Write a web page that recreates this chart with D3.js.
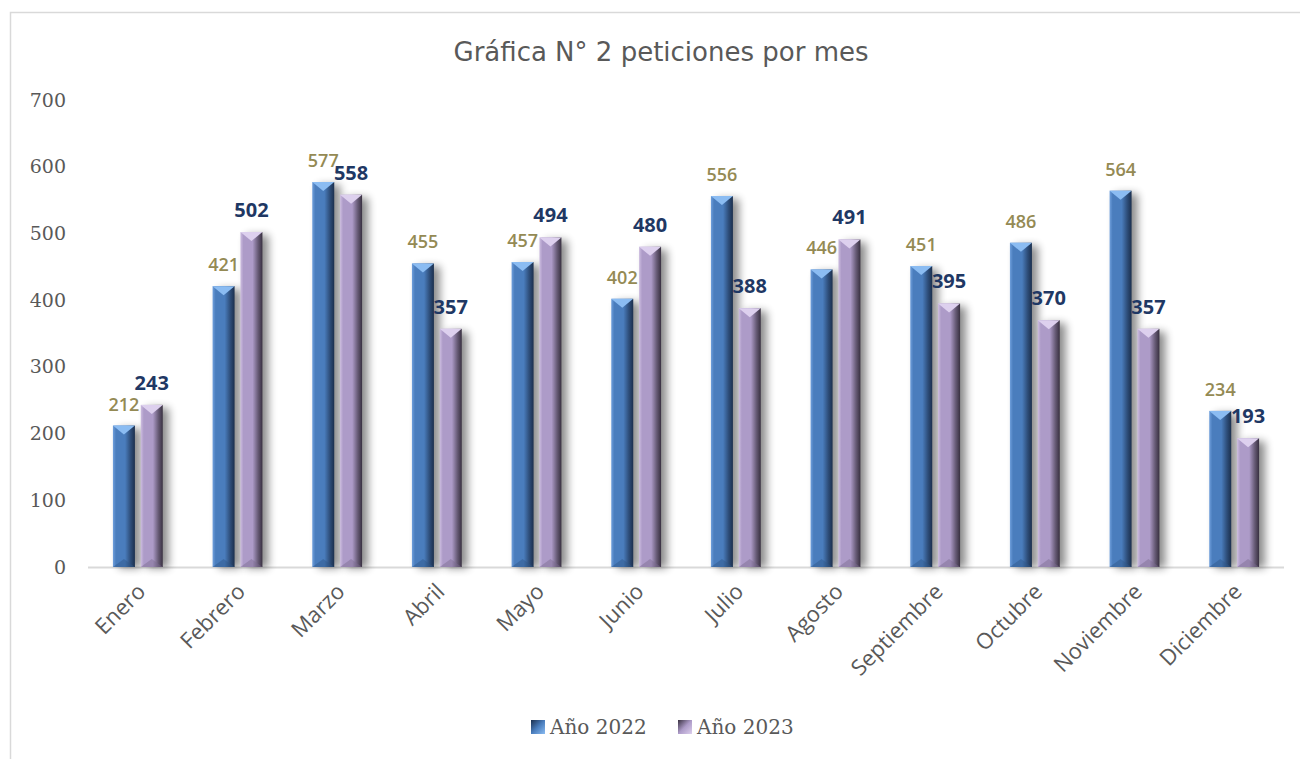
<!DOCTYPE html>
<html>
<head>
<meta charset="utf-8">
<script src="https://cdn.jsdelivr.net/npm/d3@7"></script>
<style>
  body { margin: 0; background: #fff; }
  svg { display: block; }
</style>
</head>
<body>
<div id="wrapper"></div>
<script>
// data
const months = ['Enero', 'Febrero', 'Marzo', 'Abril', 'Mayo', 'Junio', 'Julio',
  'Agosto', 'Septiembre', 'Octubre', 'Noviembre', 'Diciembre'];
const seriesNames = ['Año 2022', 'Año 2023'];
const values2022 = [212, 421, 577, 455, 457, 402, 556, 446, 451, 486, 564, 234];
const values2023 = [243, 502, 558, 357, 494, 480, 388, 491, 395, 370, 357, 193];
const yTicks = [0, 100, 200, 300, 400, 500, 600, 700];
const title = 'Gráfica N° 2 peticiones por mes';

function drawBars() {
  // step 1: dimensions
  const dimensions = {
    width: 1300,
    height: 759,
    margin: { top: 100, right: 16, bottom: 192, left: 88 },
  };
  dimensions.boundWidth = dimensions.width - dimensions.margin.left - dimensions.margin.right;
  dimensions.boundHeight = dimensions.height - dimensions.margin.top - dimensions.margin.bottom;

  const rows = months.map((m, i) => ({ month: m, values: [values2022[i], values2023[i]] }));

  // step 2: canvas
  const wrapper = d3.select('#wrapper')
    .append('svg')
    .attr('width', dimensions.width)
    .attr('height', dimensions.height);

  // chart frame
  wrapper.append('rect')
    .attr('x', 10.5).attr('y', 12.5)
    .attr('width', 1310).attr('height', 780)
    .attr('fill', '#fff')
    .attr('stroke', '#d9d9d9')
    .attr('stroke-width', 1.5);

  // gradients + shadow
  const defs = wrapper.append('defs');
  const palettes = [
    { light: '#6f9fdc', base: '#4a7dbd', dark: '#1b2f4d', top: '#8bbcf2', bottom: '#2f5688' },
    { light: '#cdbde0', base: '#ad9bc8', dark: '#383040', top: '#ddd0ee', bottom: '#7a6a8e' },
  ];
  palettes.forEach((p, i) => {
    const g = defs.append('linearGradient')
      .attr('id', `body${i}`)
      .attr('x1', 0).attr('x2', 1).attr('y1', 0).attr('y2', 0);
    g.append('stop').attr('offset', '0%').attr('stop-color', p.light);
    g.append('stop').attr('offset', '14%').attr('stop-color', p.base);
    g.append('stop').attr('offset', '55%').attr('stop-color', p.base);
    g.append('stop').attr('offset', '80%').attr('stop-color', d3.interpolateRgb(p.base, p.dark)(0.6));
    g.append('stop').attr('offset', '100%').attr('stop-color', p.dark);
    const lg = defs.append('linearGradient')
      .attr('id', `legend${i}`)
      .attr('x1', 0).attr('x2', 1).attr('y1', 0).attr('y2', 1);
    lg.append('stop').attr('offset', '0%').attr('stop-color', p.dark);
    lg.append('stop').attr('offset', '50%').attr('stop-color', p.base);
    lg.append('stop').attr('offset', '100%').attr('stop-color', p.top);
  });
  const shadow = defs.append('filter')
    .attr('id', 'shadow')
    .attr('x', '-50%').attr('y', '-10%').attr('width', '200%').attr('height', '120%');
  shadow.append('feGaussianBlur').attr('stdDeviation', 4);

  const bounds = wrapper.append('g')
    .attr('transform', `translate(${dimensions.margin.left}, ${dimensions.margin.top})`);

  // step 3: scales
  const xScale = d3.scaleBand()
    .domain(months)
    .range([0, dimensions.boundWidth])
    .paddingInner(0.5)
    .paddingOuter(0.25);
  const xSeries = d3.scaleBand()
    .domain([0, 1])
    .range([0, xScale.bandwidth()])
    .paddingInner(0.21);
  const yScale = d3.scaleLinear()
    .domain([0, 700])
    .range([dimensions.boundHeight, 0]);

  // step 4: axes
  const yAxis = bounds.append('g')
    .call(d3.axisLeft(yScale).tickValues(yTicks).tickSize(0).tickPadding(22));
  yAxis.select('.domain').remove();
  yAxis.selectAll('text')
    .attr('fill', '#595959')
    .style('font-family', '"DejaVu Serif", serif')
    .style('font-size', '19px');

  const xAxis = bounds.append('g')
    .attr('transform', `translate(0, ${dimensions.boundHeight})`)
    .call(d3.axisBottom(xScale).tickSize(0).tickPadding(0));
  xAxis.select('.domain').remove();
  xAxis.append('line')
    .attr('x1', 0).attr('x2', dimensions.boundWidth)
    .attr('y1', 0.5).attr('y2', 0.5)
    .attr('stroke', '#d9d9d9')
    .attr('stroke-width', 2);
  xAxis.selectAll('.tick text')
    .attr('fill', '#595959')
    .attr('text-anchor', 'end')
    .attr('dy', 0)
    .attr('transform', 'translate(9, 26) rotate(-45)')
    .style('font-family', '"Open Sans", sans-serif')
    .style('font-size', '22px');

  // step 5: bars
  const groups = bounds.selectAll('.group')
    .data(rows)
    .join('g')
    .attr('class', 'group')
    .attr('transform', d => `translate(${xScale(d.month)}, 0)`);

  const bars = groups.selectAll('.bar')
    .data(d => d.values.map((v, i) => ({ v, i })))
    .join('g')
    .attr('class', 'bar');

  const bw = xSeries.bandwidth();
  const y0 = yScale(0);

  // soft shadow on the right side
  bars.append('rect')
    .attr('x', d => xSeries(d.i) + 6)
    .attr('y', d => yScale(d.v) + 3)
    .attr('width', bw)
    .attr('height', d => y0 - yScale(d.v) - 2)
    .attr('fill', '#000')
    .attr('opacity', 0.45)
    .attr('filter', 'url(#shadow)');

  bars.append('rect')
    .attr('x', d => xSeries(d.i))
    .attr('y', d => yScale(d.v))
    .attr('width', bw)
    .attr('height', d => y0 - yScale(d.v))
    .attr('fill', d => `url(#body${d.i})`);

  // bevel top facet
  bars.append('path')
    .attr('d', d => {
      const x = xSeries(d.i), y = yScale(d.v);
      return `M${x},${y}L${x + bw},${y}L${x + bw / 2},${y + 9}Z`;
    })
    .attr('fill', d => palettes[d.i].top);
  // bevel bottom facet
  bars.append('path')
    .attr('d', d => {
      const x = xSeries(d.i);
      return `M${x},${y0}L${x + bw},${y0}L${x + bw / 2},${y0 - 8}Z`;
    })
    .attr('fill', d => palettes[d.i].bottom)
    .attr('opacity', 0.45);

  // value labels
  bars.append('text')
    .attr('x', d => xSeries(d.i) + bw / 2)
    .attr('y', d => yScale(d.v) - 15)
    .attr('text-anchor', 'middle')
    .attr('fill', d => d.i === 0 ? '#948a54' : '#1f3864')
    .style('font-family', '"Open Sans", sans-serif')
    .style('font-weight', d => d.i === 0 ? 600 : 700)
    .style('font-size', d => d.i === 0 ? '18px' : '20px')
    .text(d => d.v);

  // step 6: title + legend
  wrapper.append('text')
    .attr('x', 661)
    .attr('y', 61)
    .attr('text-anchor', 'middle')
    .attr('fill', '#595959')
    .style('font-family', '"DejaVu Sans", sans-serif')
    .style('font-size', '26px')
    .text(title);

  const legend = wrapper.append('g')
    .attr('transform', 'translate(531, 727)');
  const legendX = [0, 147];
  seriesNames.forEach((name, i) => {
    const item = legend.append('g').attr('transform', `translate(${legendX[i]}, 0)`);
    item.append('rect')
      .attr('x', 0).attr('y', -7)
      .attr('width', 14).attr('height', 14)
      .attr('fill', `url(#legend${i})`);
    item.append('text')
      .attr('x', 19)
      .attr('y', 7)
      .attr('fill', '#595959')
      .style('font-family', '"DejaVu Serif", serif')
      .style('font-size', '20px')
      .text(name);
  });
}
drawBars();
</script>
</body>
</html>
